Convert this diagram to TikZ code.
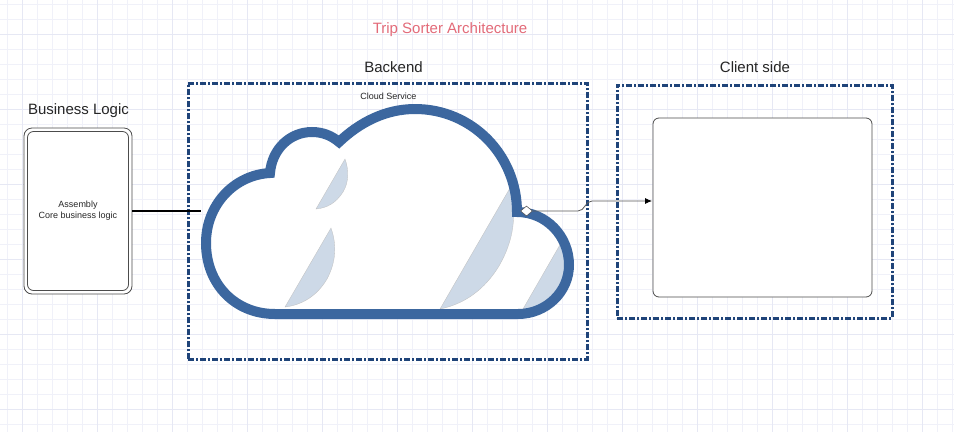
\documentclass[tikz,border=0pt]{standalone}
\usepackage{fontspec}
\setmainfont{Liberation Sans}
\usetikzlibrary{positioning,arrows.meta,shapes.geometric}
\definecolor{fineline}{HTML}{F0F1F9}
\definecolor{boldline}{HTML}{E6E8F4}
\definecolor{zonecol}{HTML}{1F4479}
\definecolor{cloudcol}{HTML}{3C679F}
\definecolor{cloudfade}{HTML}{CDD9E7}
\definecolor{titlecol}{HTML}{E36B79}
\tikzset{
	zone/.style={draw=zonecol,line width=3pt,dash pattern=on 6pt off 2pt on 2pt off 2pt},
	heading/.style={font=\fontsize{15}{17}\selectfont,text=black!85},
	small/.style={font=\fontsize{9}{11}\selectfont,align=center,text=black!85},
	panel/.style={draw=black!70,fill=white,rounded corners=6pt,line width=.8pt},
	fade/.style={fill=cloudfade,draw=black!25,line width=.3pt},
}
\begin{document}
\begin{tikzpicture}[x=1pt,y=-1pt]
	\useasboundingbox (0,0) rectangle (954,432);
	\fill[white] (0,0) rectangle (954,432);
	% grid
	\foreach \gx in {7,22,...,952} \draw[fineline,line width=.8pt] (\gx,0) -- (\gx,432);
	\foreach \gy in {4,19,...,430} \draw[fineline,line width=.8pt] (0,\gy) -- (954,\gy);
	\foreach \gx in {22,97,...,952} \draw[boldline,line width=.8pt] (\gx,0) -- (\gx,432);
	\foreach \gy in {34,109,...,430} \draw[boldline,line width=.8pt] (0,\gy) -- (954,\gy);
	% boxes
	\node[zone,minimum width=399pt,minimum height=276pt] (backend) at (387.5,221) {};
	\node[zone,minimum width=275pt,minimum height=233pt] (client) at (754.5,201.5) {};
	\node[panel,minimum width=219pt,minimum height=179pt] (front) at (762.5,207.5) {};
	\node[panel,rounded corners=8pt,minimum width=108pt,minimum height=166pt] (logic) at (78,211) {};
	\node[panel,fill=none,minimum width=101pt,minimum height=159pt] (logicin) at (78,211) {};
	\node[small] (assembly) at (78,211) {Assembly\\Core business logic};
	% cloud
	\path[fill=white] (275,314) .. controls (235,314) and (206,284) .. (206,243)
		.. controls (206,205) and (234,175) .. (270,173)
		.. controls (272,149) and (290,132) .. (312,132)
		.. controls (323,132) and (332,136) .. (339,142)
		.. controls (360,122) and (386,109) .. (415,109)
		.. controls (472,109) and (517,155) .. (517,212)
		.. controls (546,212) and (569,236) .. (569,265)
		.. controls (569,292) and (546,314) .. (518,314) -- cycle;
	\path[fade] (345,159) .. controls (349,170) and (349,182) .. (343,192) .. controls (336,203) and (327,208) .. (316,209) -- cycle;
	\path[fade] (331,228) .. controls (337,245) and (336,262) .. (327,279) .. controls (317,296) and (302,305) .. (285,307) -- cycle;
	\path[fade] (510,188) .. controls (517,215) and (514,240) .. (499,266) .. controls (485,289) and (465,304) .. (440,309) -- cycle;
	\path[fade] (561,243) -- (569,265) .. controls (569,292) and (546,312) .. (523,309) -- cycle;
	\draw[cloudcol,line width=10pt,miter limit=10] (275,314) .. controls (235,314) and (206,284) .. (206,243)
		.. controls (206,205) and (234,175) .. (270,173)
		.. controls (272,149) and (290,132) .. (312,132)
		.. controls (323,132) and (332,136) .. (339,142)
		.. controls (360,122) and (386,109) .. (415,109)
		.. controls (472,109) and (517,155) .. (517,212)
		.. controls (546,212) and (569,236) .. (569,265)
		.. controls (569,292) and (546,314) .. (518,314) -- cycle;
	\node[inner sep=0pt,minimum width=363pt,minimum height=205pt] (cloud) at (387.5,211.5) {};
	\coordinate (cloudedge) at (201,211);
	\coordinate (frontin) at (652,201);
	\node[diamond,draw=black!70,fill=white,inner sep=0pt,minimum width=12pt,minimum height=10pt,line width=.5pt] (tip) at (526.5,211) {};
	% labels
	\node[text=titlecol,font=\fontsize{15}{17}\selectfont] (title) at (450,30) {Trip Sorter Architecture};
	\node[heading] (backendtext) at (393.5,67) {Backend};
	\node[heading] (clienttext) at (755,67) {Client side};
	\node[heading] (logictext) at (78.5,111) {Business Logic};
	\node[small] (cloudtext) at (388.5,96) {Cloud Service};
	% connectors
	\draw[black,line width=1.5pt] (logic.east) -- (cloudedge);
	\draw[black!65,line width=.8pt,-{Latex[black,length=7pt,width=6pt]}] (tip.east) -- (578,211)
		.. controls (585,211) and (585,201) .. (592,201) -- (frontin);
\end{tikzpicture}
\end{document}
